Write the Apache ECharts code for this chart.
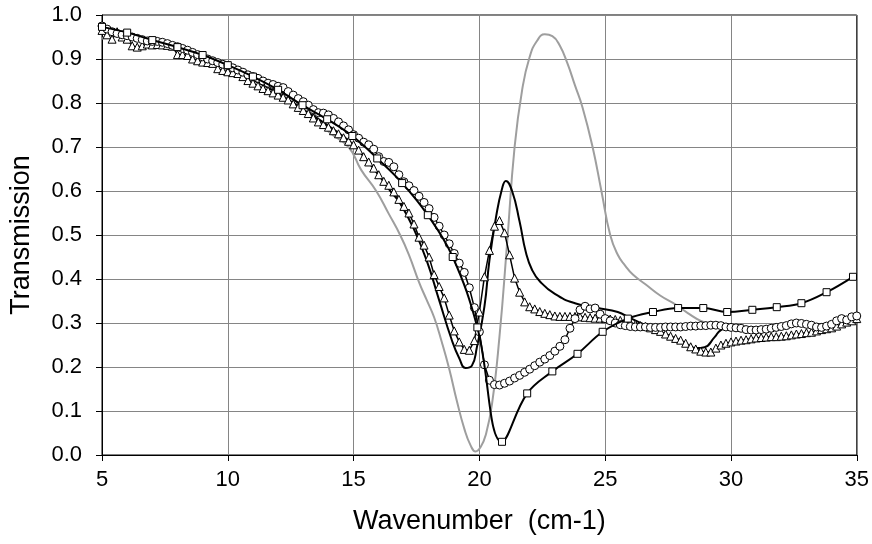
<!DOCTYPE html>
<html>
<head>
<meta charset="utf-8">
<script src="https://cdn.jsdelivr.net/npm/echarts@6/dist/echarts.min.js"></script>
<style>
  html, body { margin: 0; padding: 0; background: #fff; }
  #chart { width: 872px; height: 544px; }
</style>
</head>
<body>
<div id="chart"></div>
<script>
// wavenumber sampling of the two dense marker series (cm-1), 5.0 .. 35.0 step 0.2
const markerGrid = [];
for (let i = 0; i <= 150; i++) markerGrid.push(+(5 + i * 0.2).toFixed(1));

const circleValues = [
  0.975, 0.968, 0.962, 0.958, 0.955, 0.953, 0.950, 0.947, 0.944, 0.941,
  0.940, 0.940, 0.938, 0.935, 0.931, 0.928, 0.924, 0.920, 0.915, 0.910,
  0.905, 0.900, 0.896, 0.892, 0.888, 0.885, 0.880, 0.875, 0.870, 0.864,
  0.860, 0.856, 0.850, 0.845, 0.842, 0.838, 0.835, 0.826, 0.818, 0.810,
  0.803, 0.795, 0.785, 0.778, 0.777, 0.773, 0.765, 0.757, 0.748, 0.739,
  0.728, 0.720, 0.711, 0.705, 0.695, 0.678, 0.667, 0.665, 0.655, 0.637,
  0.621, 0.612, 0.601, 0.588, 0.574, 0.560, 0.540, 0.520, 0.500, 0.480,
  0.458, 0.436, 0.415, 0.380, 0.335, 0.280, 0.205, 0.170, 0.160, 0.159,
  0.163, 0.168, 0.175, 0.181, 0.188, 0.195, 0.203, 0.211, 0.218, 0.226,
  0.236, 0.247, 0.262, 0.288, 0.310, 0.330, 0.338, 0.332, 0.334, 0.320,
  0.310, 0.305, 0.300, 0.296, 0.294, 0.292, 0.291, 0.291, 0.291, 0.290,
  0.290, 0.290, 0.291, 0.291, 0.291, 0.291, 0.292, 0.293, 0.293, 0.294,
  0.294, 0.295, 0.295, 0.294, 0.291, 0.290, 0.289, 0.288, 0.285, 0.284,
  0.284, 0.285, 0.286, 0.288, 0.290, 0.292, 0.294, 0.298, 0.300, 0.299,
  0.297, 0.295, 0.291, 0.290, 0.293, 0.297, 0.305, 0.310, 0.307, 0.314,
  0.316
];

const triangleValues = [
  0.965, 0.955, 0.945, 0.962, 0.950, 0.945, 0.930, 0.927, 0.930, 0.934,
  0.932, 0.933, 0.932, 0.931, 0.929, 0.910, 0.910, 0.908, 0.900, 0.896,
  0.893, 0.892, 0.890, 0.878, 0.874, 0.871, 0.869, 0.867, 0.860, 0.851,
  0.845, 0.839, 0.833, 0.828, 0.823, 0.818, 0.813, 0.807, 0.798, 0.790,
  0.783, 0.776, 0.766, 0.757, 0.751, 0.745, 0.737, 0.730, 0.721, 0.713,
  0.705, 0.693, 0.678, 0.666, 0.652, 0.637, 0.622, 0.613, 0.598, 0.581,
  0.565, 0.550, 0.525, 0.495, 0.477, 0.450, 0.410, 0.383, 0.357, 0.318,
  0.282, 0.257, 0.240, 0.238, 0.260, 0.325, 0.405, 0.465, 0.520, 0.533,
  0.505, 0.455, 0.402, 0.370, 0.348, 0.337, 0.332, 0.326, 0.322, 0.319,
  0.316, 0.315, 0.315, 0.315, 0.315, 0.314, 0.313, 0.312, 0.311, 0.311,
  0.310, 0.309, 0.308, 0.306, 0.303, 0.300, 0.297, 0.294, 0.292, 0.289,
  0.285, 0.281, 0.275, 0.270, 0.265, 0.261, 0.254, 0.246, 0.241, 0.236,
  0.234, 0.234, 0.243, 0.250, 0.254, 0.257, 0.259, 0.261, 0.262, 0.264,
  0.266, 0.267, 0.268, 0.269, 0.269, 0.270, 0.271, 0.273, 0.275, 0.276,
  0.278, 0.279, 0.282, 0.285, 0.287, 0.289, 0.293, 0.298, 0.302, 0.305,
  0.310
];

const squareX = [
  5.0, 6.0, 7.0, 8.0, 9.0, 10.0, 11.0, 12.0, 12.97, 13.95,
  14.95, 15.94, 16.93, 17.95, 18.94, 19.92, 20.9, 21.9, 22.9, 23.9,
  24.9, 25.9, 26.9, 27.9, 28.9, 29.85, 30.85, 31.82, 32.8, 33.8, 34.85
];
const squareValues = [
  0.973, 0.960, 0.943, 0.927, 0.909, 0.886, 0.860, 0.830, 0.795, 0.763,
  0.725, 0.674, 0.618, 0.545, 0.450, 0.290, 0.030, 0.140, 0.190, 0.230,
  0.280, 0.310, 0.325, 0.334, 0.334, 0.325, 0.330, 0.336, 0.345, 0.370, 0.405
];

const blackX = [
  5, 6, 7, 8, 9, 10, 11, 12, 13, 14, 15, 15.5, 16, 16.5, 16.84, 17.36, 17.9,
  18.4, 18.9, 19.2, 19.45, 19.7, 19.9, 20.2, 20.4, 20.66, 20.9, 21.05, 21.3,
  21.6, 21.85, 22.1, 22.4, 23.0, 23.8, 24.7, 25.5, 26.0, 26.5, 27.0, 27.5,
  28.0, 28.3, 28.6, 28.95, 29.35, 29.6, 30, 31, 32, 33, 34, 35
];
const blackValues = [
  0.970, 0.955, 0.937, 0.922, 0.900, 0.878, 0.852, 0.822, 0.785, 0.748, 0.705,
  0.672, 0.636, 0.597, 0.573, 0.518, 0.443, 0.352, 0.262, 0.220, 0.198, 0.203,
  0.245, 0.337, 0.443, 0.540, 0.605, 0.623, 0.600, 0.530, 0.460, 0.420, 0.395,
  0.366, 0.345, 0.334, 0.325, 0.311, 0.298, 0.285, 0.272, 0.260, 0.250, 0.243,
  0.245, 0.268, 0.284, 0.290, 0.287, 0.292, 0.296, 0.298, 0.312
];

const grayX = [
  5.0, 5.4, 6, 7, 8, 9, 10, 11, 12, 12.8, 13.4, 14.0, 14.8, 15.3, 15.9, 16.4,
  16.85, 17.2, 17.6, 17.9, 18.2, 18.5, 18.8, 19.1, 19.4, 19.65, 19.85, 20.05,
  20.25, 20.5, 20.8, 21.1, 21.4, 21.7, 22.0, 22.3, 22.6, 22.9, 23.2, 23.5,
  23.8, 24.1, 24.5, 24.85, 25.2, 25.5, 25.8, 26.1, 26.6, 27.2, 27.8, 28.3,
  28.8, 29.3, 30, 31, 32, 33, 34, 35
];
const grayValues = [
  0.945, 0.958, 0.952, 0.935, 0.924, 0.903, 0.884, 0.858, 0.830, 0.800, 0.775,
  0.735, 0.700, 0.648, 0.600, 0.548, 0.500, 0.455, 0.393, 0.353, 0.313, 0.258,
  0.196, 0.124, 0.060, 0.022, 0.008, 0.018, 0.045, 0.115, 0.270, 0.480, 0.700,
  0.830, 0.905, 0.942, 0.956, 0.952, 0.930, 0.890, 0.840, 0.790, 0.700, 0.600,
  0.500, 0.455, 0.430, 0.410, 0.388, 0.362, 0.342, 0.322, 0.305, 0.297, 0.292,
  0.290, 0.294, 0.296, 0.300, 0.310
];

const zip = (xs, ys) => xs.map((x, i) => [x, ys[i]]);

const font = 'Liberation Sans';
const chart = echarts.init(document.getElementById('chart'));

const markerStyle = { color: '#fff', borderColor: '#000', borderWidth: 1 };

const option = {
  animation: false,
  grid: {
    left: 100, right: 12, top: 15, bottom: 89,
    show: true, borderColor: '#000', borderWidth: 1
  },
  xAxis: {
    type: 'value', min: 5, max: 35, interval: 5,
    name: 'Wavenumber  (cm-1)', nameLocation: 'middle', nameGap: 53,
    nameTextStyle: { fontFamily: font, fontSize: 27, color: '#000' },
    axisLine: { lineStyle: { color: '#000', width: 1 } },
    axisTick: { show: true, length: 6, lineStyle: { color: '#000' } },
    axisLabel: { fontFamily: font, fontSize: 22, color: '#000', margin: 14 },
    splitLine: { show: true, lineStyle: { color: '#858585', width: 1 } }
  },
  yAxis: {
    type: 'value', min: 0, max: 1, interval: 0.1,
    name: 'Transmission', nameLocation: 'middle', nameGap: 67,
    nameTextStyle: { fontFamily: font, fontSize: 27, color: '#000' },
    axisLine: { show: true, lineStyle: { color: '#000', width: 1 } },
    axisTick: { show: true, length: 6, lineStyle: { color: '#000' } },
    axisLabel: {
      fontFamily: font, fontSize: 22, color: '#000', margin: 20,
      formatter: v => v.toFixed(1)
    },
    splitLine: { show: true, lineStyle: { color: '#858585', width: 1 } }
  },
  series: [
    {
      type: 'line', data: zip(grayX, grayValues), showSymbol: false,
      smooth: 0.5,
      lineStyle: { color: '#9e9e9e', width: 2 }, z: 2
    },
    {
      type: 'line', data: zip(blackX, blackValues), showSymbol: false,
      smooth: 0.5,
      lineStyle: { color: '#000', width: 2 }, z: 3
    },
    {
      type: 'line', data: zip(markerGrid, triangleValues),
      symbol: 'triangle', symbolSize: 8, itemStyle: markerStyle,
      lineStyle: { color: '#000', width: 1.5 }, z: 4
    },
    {
      type: 'line', data: zip(markerGrid, circleValues),
      symbol: 'circle', symbolSize: 8, itemStyle: markerStyle,
      lineStyle: { color: '#000', width: 1.5 }, z: 5
    },
    {
      type: 'line', data: zip(squareX, squareValues),
      symbol: 'rect', symbolSize: 7, itemStyle: markerStyle,
      smooth: 0.4,
      lineStyle: { color: '#000', width: 2 }, z: 6
    }
  ]
};

chart.setOption(option);
</script>
</body>
</html>
